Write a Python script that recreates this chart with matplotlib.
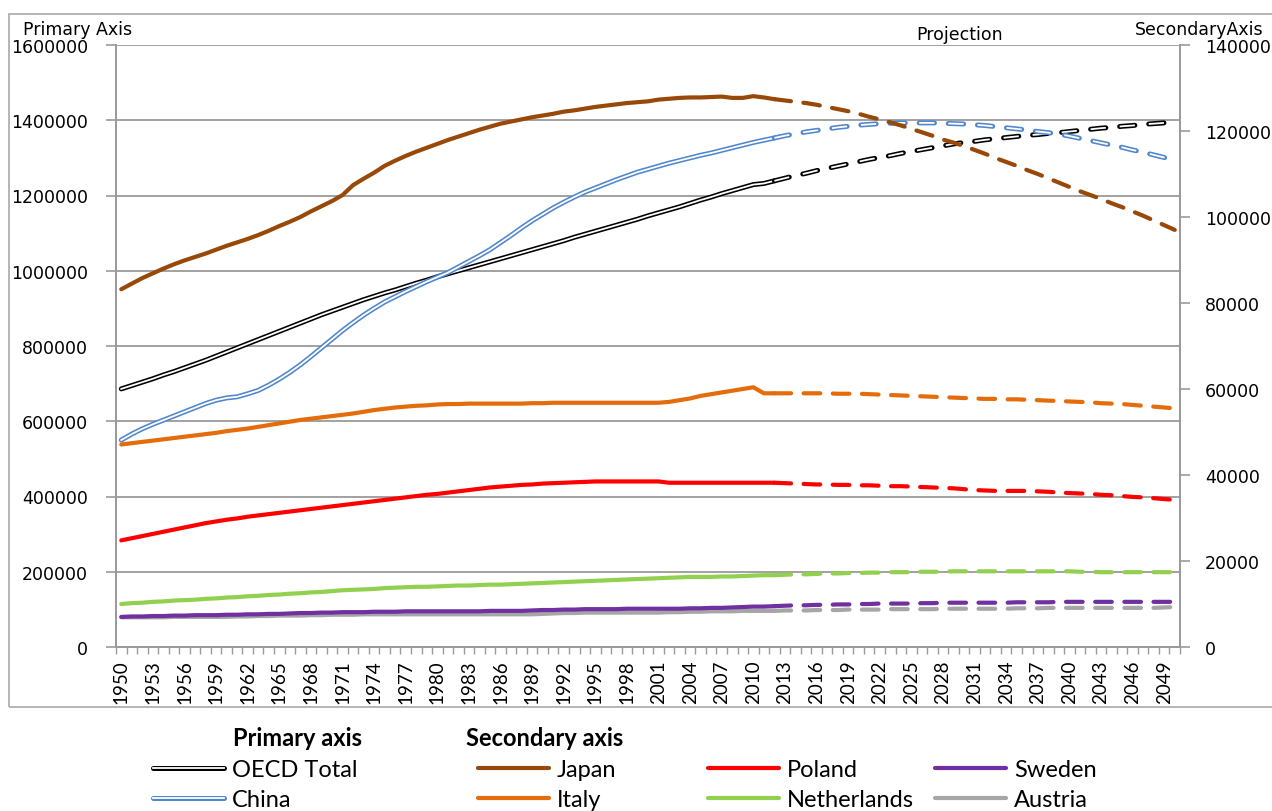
import matplotlib
matplotlib.use('Agg')
import matplotlib.pyplot as plt
import matplotlib.patheffects as pe
import matplotlib.patches as patches
from matplotlib.ticker import FormatStrFormatter
import numpy as np

plt.rcParams['lines.scale_dashes'] = False  # dash lengths in points

years = list(range(1950, 2051))
last_hist = 2012  # solid up to here, dashed projection after

# primary axis (thousands)
oecd = [686000, 695000, 704000, 713000, 723000, 732000, 742000, 752000, 762000, 773000,
        784000, 795000, 806000, 817000, 828000, 839000, 850000, 861000, 872000, 883000,
        893000, 903000, 913000, 923000, 932000, 941000, 949000, 958000, 967000, 975000,
        984000, 992000, 1000000, 1008000, 1016000, 1024000, 1032000, 1040000, 1048000, 1056000,
        1064000, 1072000, 1080000, 1089000, 1097000, 1105000, 1113000, 1121000, 1129000, 1137000,
        1146000, 1154000, 1162000, 1170000, 1179000, 1188000, 1196000, 1205000, 1213000, 1221000,
        1229000, 1232000, 1239000, 1246000, 1253000, 1259000, 1266000, 1272000, 1278000, 1284000,
        1290000, 1296000, 1301000, 1306000, 1312000, 1317000, 1322000, 1327000, 1332000, 1337000,
        1341000, 1344000, 1348000, 1351000, 1354000, 1357000, 1360000, 1362000, 1365000, 1367000,
        1370000, 1373000, 1376000, 1379000, 1381000, 1384000, 1386000, 1389000, 1391000, 1393000,
        1396000]
china = [550000, 566000, 580000, 592000, 603000, 614000, 625000, 636000, 647000, 656000,
         662000, 665000, 673000, 682000, 696000, 712000, 730000, 750000, 772000, 795000,
         818000, 841000, 862000, 882000, 900000, 917000, 931000, 945000, 958000, 971000,
         983000, 995000, 1010000, 1025000, 1040000, 1056000, 1075000, 1094000, 1114000, 1133000,
         1150000, 1167000, 1182000, 1196000, 1209000, 1220000, 1231000, 1242000, 1252000, 1262000,
         1270000, 1278000, 1286000, 1293000, 1300000, 1307000, 1313000, 1320000, 1327000, 1334000,
         1341000, 1347000, 1353000, 1359000, 1364000, 1369000, 1373000, 1377000, 1381000, 1384000,
         1387000, 1389000, 1391000, 1392000, 1393000, 1393000, 1393000, 1393000, 1392000, 1391000,
         1390000, 1388000, 1386000, 1383000, 1380000, 1377000, 1374000, 1370000, 1367000, 1363000,
         1358000, 1352000, 1346000, 1340000, 1334000, 1328000, 1321000, 1315000, 1308000, 1301000,
         1294000]

# secondary axis (thousands)
japan = [83200, 84500, 85800, 86900, 88000, 89000, 89900, 90700, 91500, 92400,
         93300, 94100, 94900, 95800, 96800, 97900, 98900, 100000, 101300, 102500,
         103700, 105100, 107400, 108900, 110300, 111900, 113100, 114200, 115200, 116100,
         117000, 117900, 118700, 119500, 120300, 121000, 121700, 122200, 122700, 123200,
         123600, 124000, 124500, 124800, 125200, 125600, 125900, 126200, 126500, 126700,
         126900, 127300, 127500, 127700, 127800, 127800, 127900, 128000, 127700, 127700,
         128100, 127800, 127400, 127100, 126800, 126500, 126100, 125600, 125100, 124600,
         124000, 123300, 122700, 122000, 121300, 120500, 119700, 118900, 118000, 117300,
         116500, 115600, 114700, 113700, 112800, 111900, 110900, 110000, 109000, 108000,
         107000, 106000, 105100, 104200, 103200, 102300, 101300, 100300, 99200, 98100,
         97000]
italy = [47100, 47400, 47700, 48000, 48300, 48600, 48900, 49200, 49500, 49800,
         50200, 50500, 50800, 51200, 51600, 52000, 52400, 52800, 53100, 53400,
         53700, 54000, 54300, 54700, 55100, 55400, 55700, 55900, 56100, 56200,
         56400, 56500, 56500, 56600, 56600, 56600, 56600, 56600, 56600, 56700,
         56700, 56800, 56800, 56800, 56800, 56800, 56800, 56800, 56800, 56800,
         56800, 56800, 57000, 57400, 57800, 58400, 58800, 59200, 59600, 60000,
         60400, 59000, 59000, 59000, 59000, 59000, 59000, 59000, 58900, 58900,
         58900, 58800, 58700, 58600, 58500, 58400, 58300, 58200, 58100, 58000,
         57900, 57800, 57700, 57700, 57600, 57600, 57500, 57400, 57300, 57200,
         57100, 57000, 56900, 56700, 56600, 56500, 56300, 56100, 55900, 55700,
         55500]
poland = [24800, 25300, 25800, 26300, 26800, 27300, 27800, 28300, 28800, 29200,
          29600, 29900, 30300, 30600, 30900, 31200, 31500, 31800, 32100, 32400,
          32700, 33000, 33300, 33600, 33900, 34200, 34500, 34800, 35100, 35400,
          35600, 35900, 36200, 36500, 36800, 37100, 37300, 37500, 37700, 37800,
          38000, 38100, 38200, 38300, 38400, 38500, 38500, 38500, 38500, 38500,
          38500, 38500, 38200, 38200, 38200, 38200, 38200, 38200, 38200, 38200,
          38200, 38200, 38200, 38100, 38000, 37900, 37800, 37800, 37700, 37700,
          37600, 37600, 37500, 37400, 37400, 37300, 37200, 37100, 37000, 36900,
          36700, 36500, 36400, 36300, 36300, 36300, 36300, 36200, 36100, 35900,
          35800, 35700, 35600, 35400, 35300, 35100, 34900, 34800, 34600, 34400,
          34200]
netherlands = [10000, 10200, 10300, 10500, 10600, 10800, 10900, 11000, 11200, 11300,
               11500, 11600, 11800, 11900, 12100, 12200, 12400, 12500, 12700, 12800,
               13000, 13200, 13300, 13400, 13500, 13700, 13800, 13900, 14000, 14000,
               14100, 14200, 14300, 14300, 14400, 14500, 14500, 14600, 14700, 14800,
               14900, 15000, 15100, 15200, 15300, 15400, 15500, 15600, 15700, 15800,
               15900, 16000, 16100, 16200, 16300, 16300, 16300, 16400, 16400, 16500,
               16600, 16700, 16700, 16800, 16900, 16900, 17000, 17100, 17100, 17200,
               17200, 17300, 17300, 17400, 17400, 17400, 17500, 17500, 17500, 17600,
               17600, 17600, 17600, 17600, 17600, 17600, 17600, 17600, 17600, 17600,
               17600, 17500, 17500, 17400, 17400, 17400, 17400, 17400, 17400, 17400,
               17400]
sweden = [7000, 7100, 7100, 7200, 7200, 7300, 7300, 7400, 7400, 7400,
          7500, 7500, 7600, 7600, 7700, 7700, 7800, 7900, 7900, 8000,
          8000, 8100, 8100, 8100, 8200, 8200, 8200, 8300, 8300, 8300,
          8300, 8300, 8300, 8300, 8300, 8400, 8400, 8400, 8400, 8500,
          8600, 8600, 8700, 8700, 8800, 8800, 8800, 8800, 8900, 8900,
          8900, 8900, 8900, 8900, 9000, 9000, 9100, 9100, 9200, 9300,
          9400, 9400, 9500, 9600, 9700, 9700, 9800, 9800, 9900, 9900,
          10000, 10000, 10100, 10100, 10100, 10100, 10200, 10200, 10300, 10300,
          10300, 10300, 10300, 10300, 10300, 10400, 10400, 10400, 10400, 10500,
          10500, 10500, 10500, 10500, 10500, 10500, 10500, 10500, 10500, 10500,
          10500]
austria = [6900, 6900, 6900, 6900, 6900, 7000, 7000, 7000, 7000, 7000,
           7000, 7100, 7100, 7200, 7200, 7300, 7300, 7300, 7400, 7400,
           7500, 7500, 7500, 7600, 7600, 7600, 7600, 7600, 7600, 7600,
           7600, 7600, 7600, 7600, 7600, 7600, 7600, 7600, 7600, 7600,
           7700, 7800, 7900, 7900, 8000, 8000, 8000, 8000, 8000, 8000,
           8000, 8000, 8100, 8100, 8200, 8200, 8300, 8300, 8300, 8400,
           8400, 8400, 8400, 8500, 8500, 8500, 8600, 8600, 8600, 8700,
           8700, 8700, 8700, 8800, 8800, 8800, 8800, 8800, 8900, 8900,
           8900, 8900, 8900, 8900, 8900, 9000, 9000, 9000, 9100, 9100,
           9100, 9100, 9100, 9100, 9100, 9100, 9100, 9100, 9100, 9200,
           9300]

label_font = ['Liberation Sans Narrow', 'Lato', 'DejaVu Sans']
grey = '#9a9a9a'

fig = plt.figure(figsize=(12.72, 8.12), dpi=100)
ax = fig.add_axes([116 / 1272, 1 - 648 / 812, (1180 - 116) / 1272, (648 - 46) / 812])
ax2 = ax.twinx()

yr = np.array(years)
hist = yr <= last_hist
proj = yr >= last_hist


def draw(axis, vals, color, label, double=False):
    v = np.array(vals, dtype=float)
    if double:
        fx = [pe.Stroke(linewidth=3.6, foreground=color, capstyle='round'), pe.Normal()]
        ln, = axis.plot(yr[hist], v[hist], color='white', lw=1.3, path_effects=fx,
                        label=label, solid_joinstyle='round')
        axis.plot(yr[proj], v[proj], color='white', lw=1.3, dashes=(11, 10),
                  dash_capstyle='butt', path_effects=fx)
    else:
        ln, = axis.plot(yr[hist], v[hist], color=color, lw=3.0, label=label,
                        solid_joinstyle='round', solid_capstyle='round')
        axis.plot(yr[proj], v[proj], color=color, lw=3.0, dashes=(12, 9),
                  dash_capstyle='round')
    return ln


h_oecd = draw(ax, oecd, 'black', 'OECD Total', double=True)
h_china = draw(ax, china, '#4f86cc', 'China', double=True)
h_austria = draw(ax2, austria, '#a6a6a6', 'Austria')
h_sweden = draw(ax2, sweden, '#7030a0', 'Sweden')
h_neth = draw(ax2, netherlands, '#92d050', 'Netherlands')
h_poland = draw(ax2, poland, '#ff0000', 'Poland')
h_italy = draw(ax2, italy, '#e46c0a', 'Italy')
h_japan = draw(ax2, japan, '#984807', 'Japan')

# primary axis
ax.set_xlim(1949.5, 2050.5)
ax.set_ylim(0, 1600000)
ax.set_yticks(range(0, 1600001, 200000))
ax.yaxis.set_major_formatter(FormatStrFormatter('%d'))
ax.yaxis.grid(True, color=grey, lw=1.3)
ax.set_axisbelow(True)
ax.tick_params(axis='y', length=7, width=1.2, color=grey, pad=13, labelsize=12.5)

ticks_x = list(range(1950, 2050, 3))
ax.set_xticks(ticks_x)
ax.set_xticklabels([str(t) for t in ticks_x], rotation=90, family=label_font, fontsize=13.5)
ax.set_xticks(np.arange(1949.5, 2051, 1), minor=True)
ax.tick_params(axis='x', which='major', length=0, pad=9)
ax.tick_params(axis='x', which='minor', length=5, width=1, color=grey)

# secondary axis
ax2.set_ylim(0, 140000)
ax2.set_yticks(range(0, 140001, 20000))
ax2.yaxis.set_major_formatter(FormatStrFormatter('%d'))
ax2.tick_params(axis='y', length=7, width=1.2, color=grey, pad=11, labelsize=12.5)

for a in (ax, ax2):
    a.spines['top'].set_visible(False)
    for s in ('left', 'right', 'bottom'):
        a.spines[s].set_color(grey)
        a.spines[s].set_linewidth(1.3)

fig.text(23 / 1272, 1 - 30 / 812, 'Primary Axis', fontsize=12.5, va='center')
fig.text(960 / 1272, 1 - 35 / 812, 'Projection', fontsize=12.5, va='center', ha='center')
fig.text(1135 / 1272, 1 - 30 / 812, 'SecondaryAxis', fontsize=12.5, va='center')

# chart area border
fig.patches.append(patches.Rectangle((9 / 1272, 1 - 708 / 812), 1.0, (708 - 15) / 812,
                                     transform=fig.transFigure, fill=False,
                                     edgecolor='#b0b0b0', lw=1.3))

# legend below the chart
fig.text(233 / 1272, 1 - 739 / 812, 'Primary axis', fontsize=17, weight='bold',
         family=label_font, va='center')
fig.text(466 / 1272, 1 - 739 / 812, 'Secondary axis', fontsize=17, weight='bold',
         family=label_font, va='center')

cols = [([h_oecd, h_china], 153), ([h_japan, h_italy], 478),
        ([h_poland, h_neth], 708), ([h_sweden, h_austria], 935)]
for hs, x0 in cols:
    fig.legend(handles=hs, loc='upper left', bbox_to_anchor=(x0 / 1272, 1 - 760 / 812),
               frameon=False, prop={'family': label_font, 'size': 17},
               handlelength=3.0, handletextpad=0.35, labelspacing=0.4,
               borderpad=0, borderaxespad=0)

fig.savefig('out.png', dpi=100)
